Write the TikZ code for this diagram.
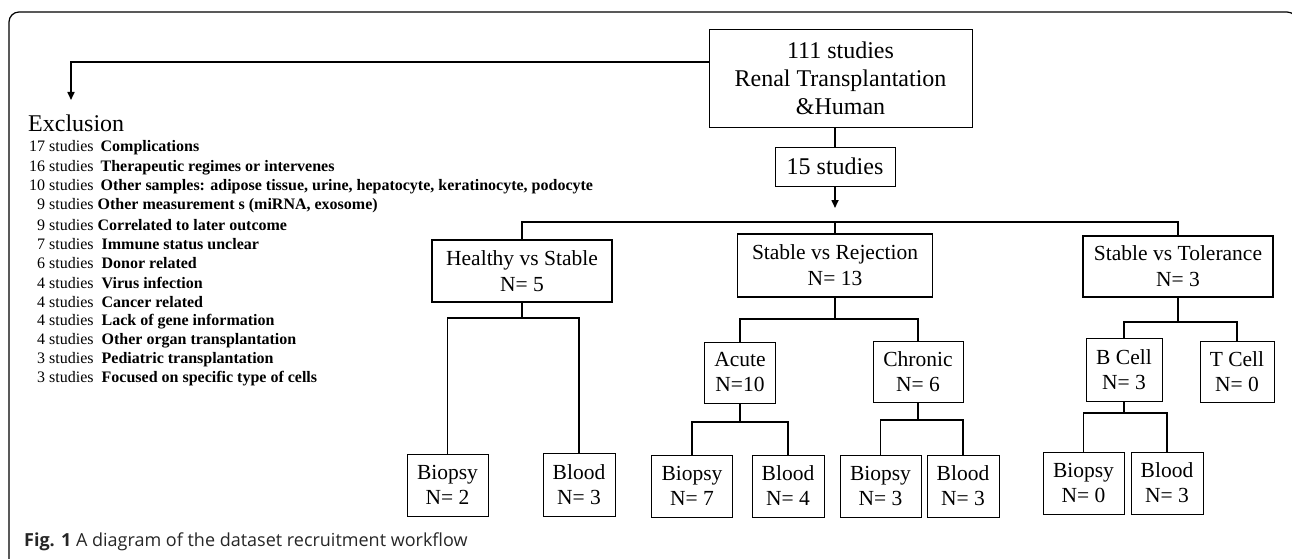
\documentclass[tikz,border=0pt]{standalone}
\usepackage{fontspec}
\setmainfont{Liberation Serif}
\newfontfamily\capfont{Open Sans}
\usetikzlibrary{arrows.meta}

\begin{document}
\begin{tikzpicture}[x=1pt, y=-1pt,
  conn/.style={line width=1.6pt},
  tip/.style={-{Triangle[length=8pt,width=7pt]}},
  big/.style={draw, line width=0.9pt, align=center, inner sep=0pt,
    font=\fontsize{24}{28}\selectfont},
  grp/.style={draw, line width=1.8pt, align=center, inner sep=0pt,
    font=\fontsize{21.5}{26}\selectfont},
  leaf/.style={draw, line width=0.8pt, align=center, inner sep=0pt,
    font=\fontsize{21.5}{25}\selectfont}]

\useasboundingbox (0,0) rectangle (1292,559);

% --- frame ---
\draw[line width=1.2pt, rounded corners=10pt] (9,580) -- (9,12) -- (1297,12) -- (1297,580);

% Helper: one exclusion row: row, x, count, gap, reason
\newcommand{\excl}[5]{%
  \node[anchor=west, inner sep=0pt, font=\fontsize{16}{18}\selectfont]
    (ex#1) at (#2, 148+19.25*#1) {#3 studies\hspace{#4}\textbf{#5}};
}

% Helper: split a box into two children at height y
\newcommand{\fork}[4]{%
  \draw[conn] (#1.south) -- (#1.south |- 0,#4);
  \draw[conn] (#2.north) |- (#3.north |- 0,#4) -- (#3.north);
}

% --- top ---
\node[big, minimum width=263pt, minimum height=98pt] (top) at (840.5,78)
  {111 studies\\Renal Transplantation\\\&Human};
\node[big, minimum width=120pt, minimum height=39pt] (n15) at (835,166.5) {15 studies};
\coordinate (excltip) at (71,100);
\coordinate (n15tip) at (835,208);
\coordinate (bus) at (835,222);

% --- exclusion list ---
\node[anchor=west, inner sep=0pt, font=\fontsize{24}{28}\selectfont] (exhead) at (28,123) {Exclusion};
\excl{0}{29}{17}{7pt}{Complications}
\excl{1}{29}{16}{7pt}{Therapeutic regimes or intervenes}
\excl{2}{29}{10}{7pt}{Other samples: adipose tissue, urine, hepatocyte, keratinocyte, podocyte}
\excl{3}{37}{9}{4pt}{Other measurement s (miRNA, exosome)}
\excl{4}{37}{9}{4pt}{Correlated to later outcome}
\excl{5}{37}{7}{8pt}{Immune status unclear}
\excl{6}{37}{6}{8pt}{Donor related}
\excl{7}{37}{4}{8pt}{Virus infection}
\excl{8}{37}{4}{8pt}{Cancer related}
\excl{9}{37}{4}{8pt}{Lack of gene information}
\excl{10}{37}{4}{8pt}{Other organ transplantation}
\excl{11}{37}{3}{8pt}{Pediatric transplantation}
\excl{12}{37}{3}{8pt}{Focused on specific type of cells}

% --- groups ---
\node[grp, minimum width=180pt, minimum height=62pt] (hs) at (522,271) {Healthy vs Stable\\N= 5};
\node[grp, minimum width=195pt, minimum height=63pt] (sr) at (835,265.5) {Stable vs Rejection\\N= 13};
\node[grp, minimum width=190pt, minimum height=61pt] (st) at (1178,266.5) {Stable vs Tolerance\\N= 3};

% --- subgroups ---
\node[leaf, minimum width=71pt, minimum height=61pt] (acute) at (740,372.5) {Acute\\N=10};
\node[leaf, minimum width=90pt, minimum height=61pt] (chronic) at (918,371.5) {Chronic\\N= 6};
\node[leaf, minimum width=76pt, minimum height=63pt] (bcell) at (1124,369.5) {B Cell\\N= 3};
\node[leaf, minimum width=74pt, minimum height=61pt] (tcell) at (1237,371.5) {T Cell\\N= 0};

% --- samples ---
\node[leaf, minimum width=81pt, minimum height=62pt] (hbio) at (447.5,485) {Biopsy\\N= 2};
\node[leaf, minimum width=72pt, minimum height=63pt] (hblo) at (579,484.5) {Blood\\N= 3};
\node[leaf, minimum width=81pt, minimum height=62pt] (abio) at (692,486) {Biopsy\\N= 7};
\node[leaf, minimum width=72pt, minimum height=62pt] (ablo) at (788,486) {Blood\\N= 4};
\node[leaf, minimum width=81pt, minimum height=62pt] (cbio) at (880.5,486) {Biopsy\\N= 3};
\node[leaf, minimum width=72pt, minimum height=62pt] (cblo) at (963,486) {Blood\\N= 3};
\node[leaf, minimum width=81pt, minimum height=62pt] (bbio) at (1083.5,483) {Biopsy\\N= 0};
\node[leaf, minimum width=72pt, minimum height=62pt] (bblo) at (1167,483) {Blood\\N= 3};

% --- connectors ---
\draw[conn, tip] ([yshift=16pt]top.west) -| (excltip);
\draw[conn] (top.south -| n15.north) -- (n15.north);
\draw[conn, tip] (n15.south) -- (n15tip);
\draw[conn] (hs.north) |- (st.north |- bus) -- (st.north);
\draw[conn] (bus) -- (sr.north);

\fork{hs}{hbio}{hblo}{318}
\fork{sr}{acute}{chronic}{319}
\fork{st}{bcell}{tcell}{322}
\fork{acute}{abio}{ablo}{422}
\fork{chronic}{cbio}{cblo}{420}
\fork{bcell}{bbio}{bblo}{413}

% --- caption ---
\node[anchor=west, inner sep=0pt, font=\capfont\fontsize{18}{20}\selectfont, text=black!85]
  (cap) at (24,542) {\textbf{Fig. 1} A diagram of the dataset recruitment workflow};

\end{tikzpicture}
\end{document}
